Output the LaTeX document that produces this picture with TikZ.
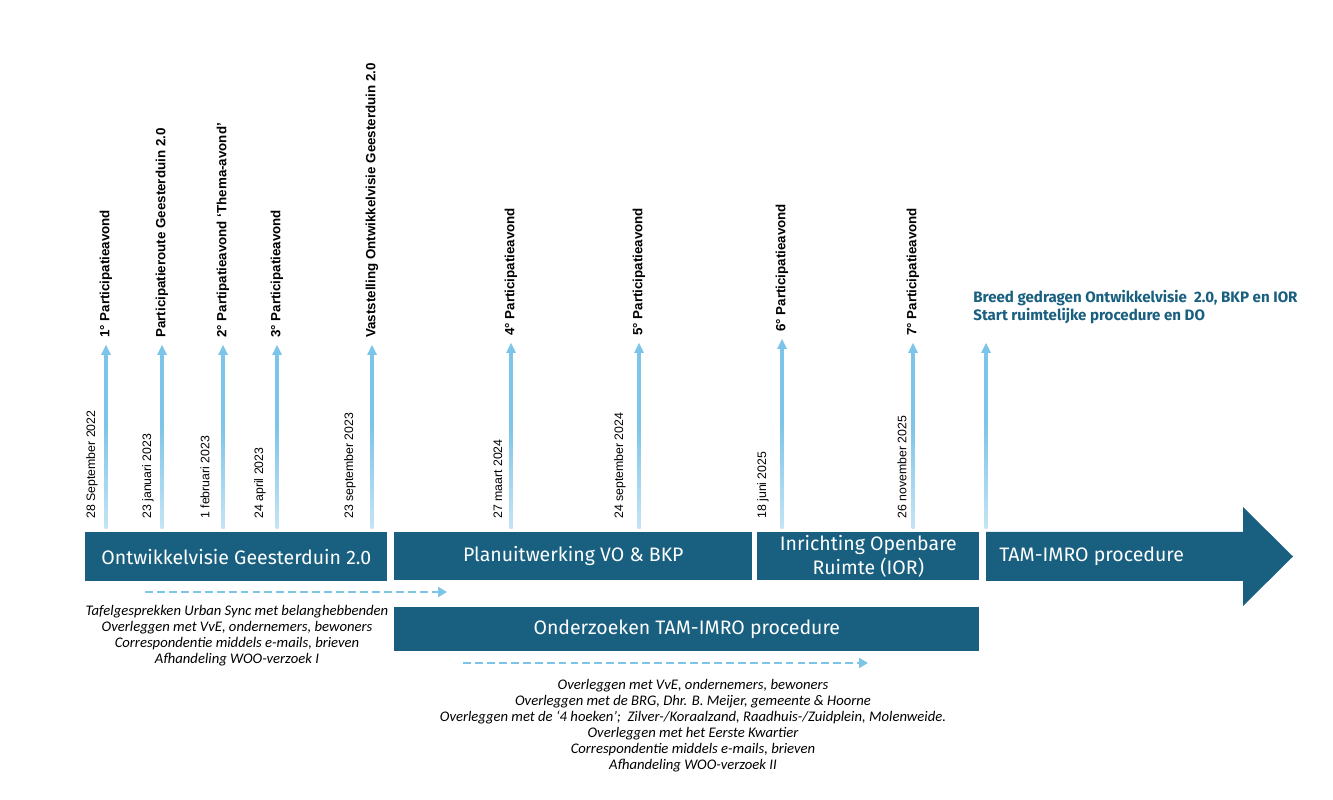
\documentclass[tikz,border=0pt]{standalone}
\usepackage{fontspec}
\setmainfont{Fira Sans}
\newfontfamily\tickfont{Liberation Sans}
\newfontfamily\notefont{Carlito}
\usetikzlibrary{arrows.meta,calc}
\definecolor{phaseblue}{RGB}{24,95,128}
\definecolor{tickblue}{RGB}{124,196,232}
\pgfdeclareverticalshading{stemfade}{100bp}{color(0bp)=(white); color(4bp)=(tickblue!6); color(55bp)=(tickblue); color(100bp)=(tickblue)}

\begin{document}
\begin{tikzpicture}[x={(0.02cm,0)},y={(0,-0.02cm)},
  phase/.style={fill=phaseblue,text=white,inner sep=0pt,align=center,font=\fontsize{11.1}{13.6}\selectfont},
  datelbl/.style={rotate=90,anchor=west,inner sep=0pt,font=\tickfont\fontsize{7}{8}\selectfont},
  eventlbl/.style={rotate=90,anchor=west,inner sep=0pt,font=\tickfont\bfseries\fontsize{7.6}{8}\selectfont},
  notes/.style={align=center,inner sep=0pt,font=\notefont\itshape\fontsize{8.35}{9.1}\selectfont},
  flow/.style={tickblue,line width=1.7pt,dash pattern=on 4.5pt off 2.3pt,-{Triangle[width=5.5pt,length=5pt]}}]
\useasboundingbox (0,0) rectangle (1333,800);
% phases
\node[phase,anchor=north west,minimum width=6.04cm,minimum height=0.98cm] (visie) at (85,532) {Ontwikkelvisie Geesterduin 2.0};
\node[phase,anchor=north west,minimum width=7.16cm,minimum height=0.96cm] (plan) at (394,532) {Planuitwerking VO \& BKP};
\node[phase,anchor=north west,minimum width=4.44cm,minimum height=0.96cm] (ior) at (757,532) {Inrichting Openbare\\Ruimte (IOR)};
\node[phase,anchor=north west,minimum width=11.7cm,minimum height=0.88cm] (onderzoek) at (394,607) {Onderzoeken TAM-IMRO procedure};
\fill[phaseblue] (986,532) -- (1243,532) -- (1243,507) -- (1293,556.5) -- (1243,606) -- (1243,581) -- (986,581) -- cycle;
\node[anchor=west,inner sep=0pt,text=white,font=\fontsize{11.1}{13.6}\selectfont] (tam) at (999,556.5) {TAM-IMRO procedure};
% moments
\foreach \x/\tip/\dx/\date/\lbl [count=\i] in {
  106/345/14/28 September 2022/1° Participatieavond,
  162/345/14/23 januari 2023/Participatieroute Geesterduin 2.0,
  223/345/18/1 februari 2023/2° Partipatieavond ‘Thema-avond’,
  277/345/17/24 april 2023/3° Participatieavond,
  372/345/22/23 september 2023/Vaststelling Ontwikkelvisie Geesterduin 2.0,
  511/343/13/27 maart 2024/4° Participatieavond,
  639/343/19/24 september 2024/5° Participatieavond,
  782/339/19/18 juni 2025/6° Participatieavond,
  913/343/11/26 november 2025/7° Participatieavond} {
  \coordinate (base\i) at (\x,529);
  \coordinate (tip\i) at (\x,\tip);
  \shade[shading=stemfade] ($(base\i)+(-1.5,0)$) rectangle ($(tip\i)+(1.5,10)$);
  \fill[tickblue] (tip\i) -- ++(-5,10) -- ++(10,0) -- cycle;
  \node[datelbl] (date\i) at (\x-\dx,519) {\date};
  \node[eventlbl] (event\i) at (\x,\tip-7) {\lbl};
}
\coordinate (base10) at (986,529);
\coordinate (tip10) at (986,343);
\shade[shading=stemfade] ($(base10)+(-1.5,0)$) rectangle ($(tip10)+(1.5,10)$);
\fill[tickblue] (tip10) -- ++(-5,10) -- ++(10,0) -- cycle;
\node[anchor=west,align=left,inner sep=0pt,text=phaseblue,font=\bfseries\fontsize{8.6}{10.2}\selectfont] (result) at (973,307) {Breed gedragen Ontwikkelvisie~ 2.0, BKP en IOR\\Start ruimtelijke procedure en DO};
% flows
\coordinate (flowAs) at (145,592);
\coordinate (flowAe) at (447,592);
\coordinate (flowBs) at (463,663);
\coordinate (flowBe) at (868,663);
\draw[flow] (flowAs) -- (flowAe);
\draw[flow] (flowBs) -- (flowBe);
\node[notes] (notesA) at (237,636) {Tafelgesprekken Urban Sync met belanghebbenden\\Overleggen met VvE, ondernemers, bewoners\\Correspondentie middels e-mails, brieven\\Afhandeling WOO-verzoek I};
\node[notes] (notesB) at (693,726) {Overleggen met VvE, ondernemers, bewoners\\Overleggen met de BRG, Dhr. B. Meijer, gemeente \& Hoorne\\Overleggen met de ‘4 hoeken’;~ Zilver-/Koraalzand, Raadhuis-/Zuidplein, Molenweide.\\Overleggen met het Eerste Kwartier\\Correspondentie middels e-mails, brieven\\Afhandeling WOO-verzoek II};
\end{tikzpicture}
\end{document}
